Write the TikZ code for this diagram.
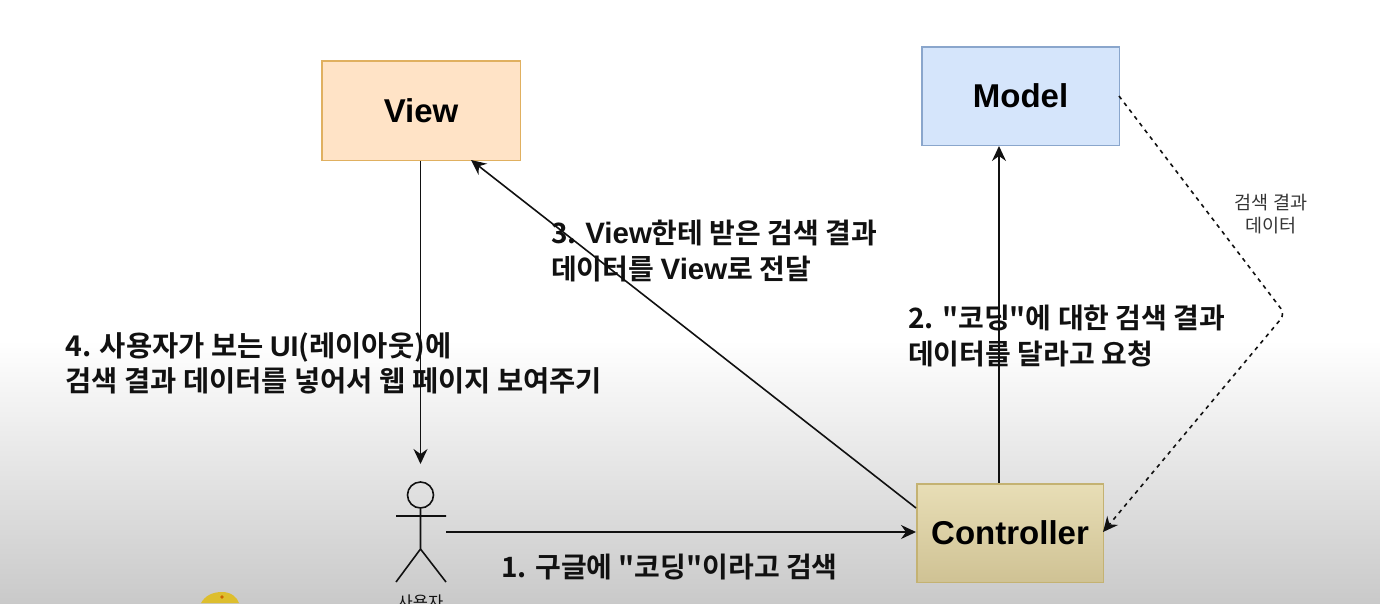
\documentclass[tikz,border=0pt]{standalone}
\usepackage{fontspec}
\usetikzlibrary{arrows.meta,shadings,calc}
\setmainfont{Liberation Sans}
\newfontfamily\krb{Noto Sans CJK KR}[BoldFont={Noto Sans CJK KR Bold}]
\newfontfamily\lat{Liberation Sans}
\newcommand{\kl}[1]{{\lat\bfseries #1}}
\definecolor{viewfill}{HTML}{FFE3C6}
\definecolor{viewline}{HTML}{E0B060}
\definecolor{modelfill}{HTML}{D5E5FB}
\definecolor{modelline}{HTML}{8AA6CC}
\definecolor{ctrlline}{HTML}{C4B272}
\definecolor{ctrltop}{HTML}{E8DEB6}
\definecolor{ctrlbot}{HTML}{CFC294}
\definecolor{blob}{HTML}{DDBE2E}
\definecolor{ink}{HTML}{111111}
\tikzset{
  x=1pt,y=-1pt,
  boxnode/.style={draw,line width=1.6pt,anchor=north west,inner sep=0pt,font=\lat\bfseries\fontsize{33}{38}\selectfont,text=black},
  stepnote/.style={anchor=west,align=left,inner sep=0pt,text=ink,font=\krb\bfseries\fontsize{28}{35.5}\selectfont},
  smallnote/.style={align=center,inner sep=0pt,text=ink!85,font=\krb\fontsize{18.5}{23}\selectfont},
  conn/.style={draw=ink,line width=1.6pt,-{Stealth[length=15pt,width=14pt,inset=5pt]}},
  dashconn/.style={conn,dash pattern=on 4pt off 4.5pt,rounded corners=7pt},
  stick/.style={draw=ink,line width=1.6pt},
}
\begin{document}
\begin{tikzpicture}
\useasboundingbox (0,0) rectangle (1380,603);
\clip (0,0) rectangle (1380,603);
\fill[white] (0,0) rectangle (1380,603);
\shade[top color=white,bottom color=black!21] (0,340) rectangle (1380,603);
% yellow blob
\fill[blob] (201,603) .. controls (205,596) and (212,592) .. (222,592) .. controls (231,592) and (237,597) .. (239,603) -- cycle;
\fill[orange!80!black] (222,597) circle (1.8);
% text first, connectors over
\node[stepnote] (n3) at (551,251) {3. {\lat\bfseries\fontsize{29.5}{35.5}\selectfont View}한테 받은 검색 결과\\데이터를 {\lat\bfseries\fontsize{29.5}{35.5}\selectfont View}로 전달};
\node[stepnote] (n2) at (908,336) {2. "코딩"에 대한 검색 결과\\데이터를 달라고 요청};
\node[stepnote,font=\krb\bfseries\fontsize{28.5}{35.5}\selectfont] (n4) at (65,363.5) {4. 사용자가 보는 \kl{UI}(레이아웃)에\\검색 결과 데이터를 넣어서 웹 페이지 보여주기};
\node[stepnote] (n1) at (501,567) {1. 구글에 "코딩"이라고 검색};
\node[smallnote] (sn) at (1271,214) {검색 결과\\데이터};
% boxes
\node[boxnode,draw=viewline,fill=viewfill,minimum width=198.5pt,minimum height=99.5pt] (view) at (321,60) {View};
\node[boxnode,draw=modelline,fill=modelfill,minimum width=197.5pt,minimum height=98.5pt] (model) at (921,46) {Model};
\shade[top color=ctrltop,bottom color=ctrlbot] (916,483) rectangle (1103,582);
\node[boxnode,draw=ctrlline,minimum width=186.5pt,minimum height=98.5pt] (ctrl) at (916,483) {Controller};
% actor
\node[stick,circle,minimum size=26pt,inner sep=0pt] (head) at (420.5,495) {};
\coordinate (hip) at (420.5,549);
\coordinate (armL) at (396,516);
\coordinate (armR) at (446,516);
\coordinate (legL) at (396,582);
\coordinate (legR) at (446,582);
\draw[stick] (head.south) -- (hip) (armL) -- (armR) (legL) -- (hip) -- (legR);
\node[inner sep=0pt,anchor=north,text=ink,font=\krb\fontsize{16.5}{20}\selectfont] (ulabel) at (420.5,595) {사용자};
% connectors
\coordinate (dash1) at (1119,96);
\coordinate (dashm) at (1285,314);
\coordinate (ctrlR) at (1103,532);
\coordinate (userR) at (446,532);
\coordinate (ctrlL) at (916,532);
\coordinate (ctrlUL) at (916,508);
\coordinate (viewA) at (471,160);
\coordinate (userT) at (420.5,464);
\coordinate (viewB) at (420.5,161);
\coordinate (ctrlT) at (999,483);
\coordinate (modelB) at (999,146);
\draw[conn] (viewB) -- (userT);
\draw[conn] (ctrlUL) -- (viewA);
\draw[conn] (ctrlT) -- (modelB);
\draw[conn] (userR) -- (ctrlL);
\draw[dashconn] (dash1) -- (dashm) -- (ctrlR);
\end{tikzpicture}
\end{document}
